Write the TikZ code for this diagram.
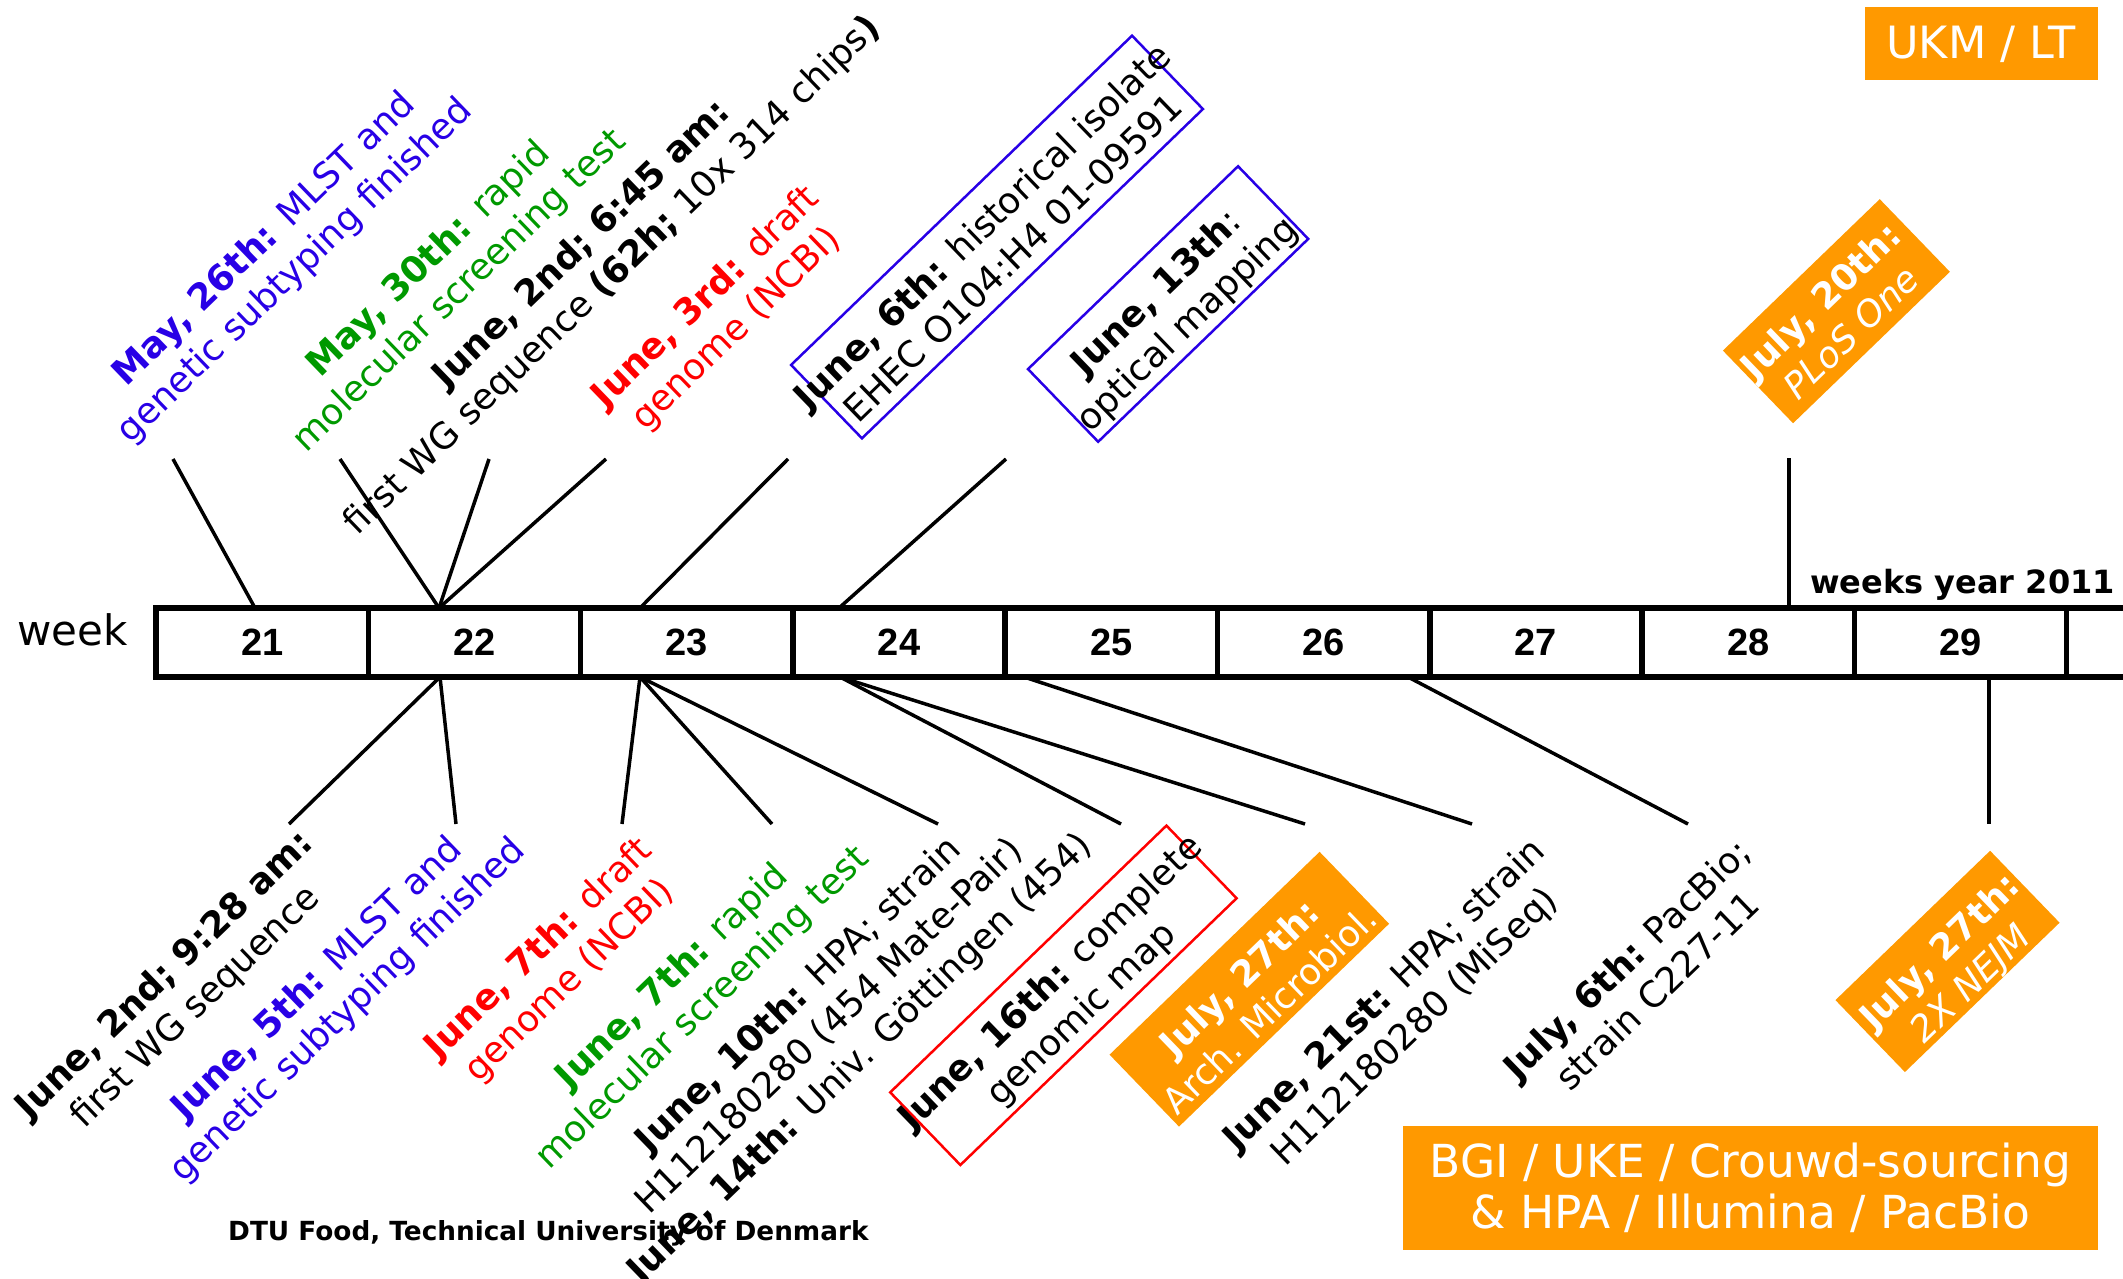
\documentclass[tikz,border=0pt]{standalone}
\usepackage{fontspec}
\setmainfont{DejaVu Sans}
\newfontfamily\numfont{Liberation Sans}
\definecolor{myblue}{RGB}{40,0,230}
\definecolor{mygreen}{RGB}{0,153,0}
\definecolor{myred}{RGB}{255,0,0}
\definecolor{myorange}{RGB}{255,153,0}
\tikzset{
  lbl/.style={rotate=44, align=center, inner sep=0pt, font=\fontsize{36}{44}\selectfont},
  conn/.style={line width=3.5pt},
  cell/.style={draw, line width=5.5pt, minimum width=212.3pt, minimum height=69pt, inner sep=0pt,
    font=\numfont\bfseries\fontsize{38}{40}\selectfont},
  outbox/.style={draw, line width=2.5pt, rotate=44, inner sep=0pt},
  obox/.style={fill=myorange, inner sep=0pt, text=white},
}
\begin{document}
\begin{tikzpicture}[x=1pt,y=-1pt]
\useasboundingbox (0,0) rectangle (2123,1279);
\clip (0,0) rectangle (2123,1279);

% corner boxes
\node[obox, minimum width=233pt, minimum height=73pt, font=\fontsize{44.5}{52}\selectfont] (ukm) at (1981,44) {UKM / LT};
\node[obox, minimum width=695pt, minimum height=124pt, align=center, font=\fontsize{45.5}{51}\selectfont] (bgi) at (1750.4,1187.5) {BGI / UKE / Crouwd-sourcing\\\& HPA / Illumina / PacBio};

% week bar
\foreach \n [count=\i from 0] in {21,...,29}
  \node[cell] (w\n) at ({156+212.3*(\i+0.5)},642.5) {\n};
\node[cell] (w30) at ({156+212.3*9.5},642.5) {};
\node[anchor=base west, inner sep=0pt, font=\fontsize{42}{50}\selectfont] (weeklbl) at (17,645) {week};
\node[anchor=base east, inner sep=0pt, font=\bfseries\fontsize{32}{38}\selectfont] (wy) at (2115,593) {weeks year 2011};
\node[anchor=base west, inner sep=0pt, font=\bfseries\fontsize{26.3}{30}\selectfont] (dtu) at (228,1240) {DTU Food, Technical University of Denmark};

% attachment points on the bar
\coordinate (t1) at (255,608);
\coordinate (t2) at (439,608);
\coordinate (t3) at (640,608);
\coordinate (t4) at (839,608);
\coordinate (t5) at (1789,608);
\coordinate (b1) at (440,677);
\coordinate (b2) at (640,677);
\coordinate (b3) at (840,677);
\coordinate (b4) at (1024,677);
\coordinate (b5) at (1408,677);
\coordinate (b6) at (1989,677);
% free ends
\coordinate (ua) at (173,459);
\coordinate (ub) at (340,459);
\coordinate (uc) at (489,459);
\coordinate (ud) at (606,459);
\coordinate (ue) at (788,459);
\coordinate (uf) at (1006,459);
\coordinate (ug) at (1789,458);
\coordinate (la) at (289,824);
\coordinate (lb) at (456,824);
\coordinate (lc) at (622,824);
\coordinate (ld) at (772,824);
\coordinate (le) at (938,824);
\coordinate (lf) at (1121,824);
\coordinate (lg) at (1305,824);
\coordinate (lh) at (1472,824);
\coordinate (li) at (1688,824);
\coordinate (lj) at (1989,824);

\draw[conn] (ua) -- (t1);
\draw[conn] (ub) -- (t2);
\draw[conn] (uc) -- (t2);
\draw[conn] (ud) -- (t2);
\draw[conn] (ue) -- (t3);
\draw[conn] (uf) -- (t4);
\draw[conn] (ug) -- (t5);
\draw[conn] (b1) -- (la);
\draw[conn] (b1) -- (lb);
\draw[conn] (b2) -- (lc);
\draw[conn] (b2) -- (ld);
\draw[conn] (b2) -- (le);
\draw[conn] (b3) -- (lf);
\draw[conn] (b3) -- (lg);
\draw[conn] (b4) -- (lh);
\draw[conn] (b5) -- (li);
\draw[conn] (b6) -- (lj);

% upper labels
\node[lbl, text=myblue] (A) at (280.3,255.7) {\textbf{May, 26th:} MLST and\\genetic subtyping finished};
\node[lbl, text=mygreen] (B) at (444.6,275.7) {\textbf{May, 30th:} rapid\\molecular screening test};
\node[lbl] (C) at (597.8,260.6) {\textbf{June, 2nd; 6:45 am:}\\first WG sequence \textbf{(62h;} 10x 314 chips\textbf{)}};
\node[lbl, text=myred] (D) at (721.5,313.7) {\textbf{June, 3rd:} draft\\genome (NCBI)};
\node[outbox, draw=myblue, minimum width=474pt, minimum height=102pt] (Ebox) at (997,237) {};
\node[lbl] (E) at (997.1,241.3) {\textbf{June, 6th:} historical isolate\\EHEC O104:H4 01-09591};
\node[outbox, draw=myblue, minimum width=292pt, minimum height=101pt] (Fbox) at (1168.1,304) {};
\node[lbl] (F) at (1172.7,309.4) {\textbf{June, 13th}:\\optical mapping};
\node[obox, rotate=44, minimum width=218pt, minimum height=101pt] (Gbox) at (1836.4,311.2) {};
\node[lbl, text=white] (G) at (1835.4,316) {\textbf{July, 20th:}\\\textit{PLoS One}};

% lower labels
\node[lbl] (N1) at (180.6,991.8) {\textbf{June, 2nd; 9:28 am:}\\first WG sequence};
\node[lbl, text=myblue] (N2) at (333,995) {\textbf{June, 5th:} MLST and\\genetic subtyping finished};
\node[lbl, text=myred] (N3) at (554.7,965.6) {\textbf{June, 7th:} draft\\genome (NCBI)};
\node[lbl, text=mygreen] (N4) at (688,992.9) {\textbf{June, 7th:} rapid\\molecular screening test};
\node[lbl] (N5) at (830,1027.4) {\textbf{June, 10th:} HPA; strain\\H112180280 (454 Mate-Pair)\\\textbf{June, 14th:} Univ. Göttingen (454)};
\node[outbox, draw=myred, minimum width=384pt, minimum height=101pt] (N6box) at (1063.4,995.3) {};
\node[lbl] (N6) at (1066.8,999.3) {\textbf{June, 16th:} complete\\genomic map};
\node[obox, rotate=44, minimum width=292pt, minimum height=100pt] (N7box) at (1249.3,989.2) {};
\node[lbl, text=white] (N7) at (1254.3,993.5) {\textbf{July, 27th:}\\Arch. Microbiol.};
\node[lbl] (N8) at (1400.4,1011.8) {\textbf{June, 21st:} HPA; strain\\H112180280 (MiSeq)};
\node[lbl] (N9) at (1641.5,974.8) {\textbf{July, 6th:} PacBio;\\strain C227-11};
\node[obox, rotate=44, minimum width=215pt, minimum height=100pt] (N10box) at (1947.5,961.4) {};
\node[lbl, text=white] (N10) at (1956.5,968.8) {\textbf{July, 27th:}\\\textit{2X NEJM}};
\end{tikzpicture}
\end{document}
